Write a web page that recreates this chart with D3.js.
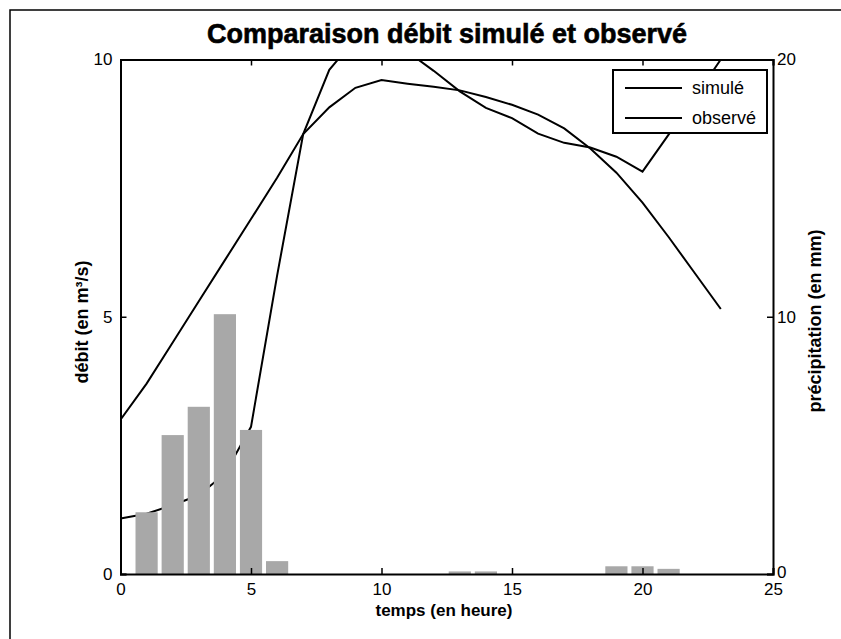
<!DOCTYPE html>
<html>
<head>
<meta charset="utf-8">
<script src="https://cdn.jsdelivr.net/npm/d3@7"></script>
<style>
  body { margin: 0; background: #fff; }
  svg { display: block; }
  text { font-family: "Liberation Sans", Arial, sans-serif; fill: #000; }
</style>
</head>
<body>
<svg width="841" height="639"></svg>
<script>
const svg = d3.select("svg");
const width = +svg.attr("width");
const height = +svg.attr("height");

// plot box (MATLAB style plotyy)
const box = { left: 120.5, right: 773, top: 59.5, bottom: 574 };

/* ---------- data ---------- */

const hours = [0,1,2,3,4,5,6,7,8,9,10,11,12,13,14,15,16,17,18,19,20,21,22,23];

// smooth curve
const simule = [3.0,3.7,4.5,5.3,6.1,6.9,7.7,8.55,9.07,9.45,9.6,9.53,9.47,9.4,9.27,9.12,8.93,8.66,8.27,7.8,7.22,6.55,5.85,5.15];
// steep curve, goes above the axis limit
const observe = [1.08,1.17,1.34,1.53,1.95,2.86,5.8,8.55,9.8,10.4,10.5,10.15,9.78,9.38,9.06,8.86,8.56,8.38,8.29,8.11,7.82,8.54,9.26,10.0];

const pluieHeures = [1,2,3,4,5,6,13,14,19,20,21];
const pluie = [2.4,5.4,6.5,10.1,5.6,0.5,0.1,0.1,0.3,0.3,0.2];

const xTicks = [0,5,10,15,20,25];
const yLeftTicks = [0,5,10];
const yRightTicks = [0,10,20];

/* ---------- scales ---------- */

const x = d3.scaleLinear().domain([0, 25]).range([box.left, box.right]);
const yL = d3.scaleLinear().domain([0, 10]).range([box.bottom, box.top]);
const yR = d3.scaleLinear().domain([0, 20]).range([box.bottom, box.top]);

// figure frame
svg.append("path")
    .attr("d", `M10,${height} V10 H${width}`)
    .attr("fill", "none")
    .attr("stroke", "#000")
    .attr("stroke-width", 1.5);

svg.append("defs").append("clipPath")
    .attr("id", "plot-clip")
  .append("rect")
    .attr("x", box.left)
    .attr("y", box.top)
    .attr("width", box.right - box.left)
    .attr("height", box.bottom - box.top);

/* ---------- lines ---------- */

const line = d3.line()
    .x((d, i) => x(hours[i]))
    .y(d => yL(d));

[simule, observe].forEach(serie => {
    svg.append("path")
        .datum(serie)
        .attr("d", line)
        .attr("fill", "none")
        .attr("stroke", "#000")
        .attr("stroke-width", 2)
        .attr("clip-path", "url(#plot-clip)");
});

/* ---------- rain bars (right axis, drawn on top) ---------- */

const barW = (x(1) - x(0)) * 0.85;

svg.append("g")
    .selectAll("rect")
    .data(pluie)
    .join("rect")
    .attr("x", (d, i) => x(pluieHeures[i]) - barW / 2)
    .attr("y", d => yR(d))
    .attr("width", barW)
    .attr("height", d => yR(0) - yR(d))
    .attr("fill", "#a8a8a8");

/* ---------- axes ---------- */

const tick = 6;

svg.append("g")
    .attr("transform", `translate(0,${box.bottom})`)
    .call(d3.axisBottom(x).tickValues(xTicks).tickSize(-tick).tickPadding(9));

svg.append("g")
    .attr("transform", `translate(0,${box.top})`)
    .call(d3.axisTop(x).tickValues(xTicks).tickSize(-tick).tickFormat(""));

svg.append("g")
    .attr("transform", `translate(${box.left},0)`)
    .call(d3.axisLeft(yL).tickValues(yLeftTicks).tickSize(-tick).tickPadding(8));

const gyr = svg.append("g")
    .attr("transform", `translate(${box.right},0)`)
    .call(d3.axisRight(yR).tickValues(yRightTicks).tickSize(-tick).tickPadding(4));

svg.selectAll(".domain").attr("stroke-width", 2).attr("stroke", "#000");
svg.selectAll(".tick line").attr("stroke-width", 1.5).attr("stroke", "#000");
svg.selectAll(".tick text")
    .attr("font-family", "'Liberation Sans', Arial, sans-serif")
    .attr("font-size", 17)
    .attr("fill", "#000");

// lift the right "0" a little so it does not sit on the "25"
gyr.selectAll(".tick text").filter(d => d === 0).attr("dy", "0.2em");

/* ---------- legend ---------- */

const legendItems = ["simulé", "observé"];
const legend = svg.append("g");

legend.append("rect")
    .attr("x", 613)
    .attr("y", 70)
    .attr("width", 154)
    .attr("height", 63)
    .attr("fill", "#fff")
    .attr("stroke", "#000")
    .attr("stroke-width", 2);

legendItems.forEach((name, i) => {
    const ly = 88 + i * 30;
    legend.append("line")
        .attr("x1", 625).attr("x2", 682)
        .attr("y1", ly).attr("y2", ly)
        .attr("stroke", "#000")
        .attr("stroke-width", 2);
    legend.append("text")
        .attr("x", 692)
        .attr("y", ly + 6)
        .attr("font-size", 18)
        .text(name);
});

/* ---------- titles ---------- */

svg.append("text")
    .attr("x", 447)
    .attr("y", 43)
    .attr("text-anchor", "middle")
    .attr("font-size", 27)
    .attr("font-weight", "bold")
    .attr("stroke", "#000")
    .attr("stroke-width", 0.6)
    .text("Comparaison débit simulé et observé");

svg.append("text")
    .attr("x", 444)
    .attr("y", 616)
    .attr("text-anchor", "middle")
    .attr("font-size", 17)
    .attr("font-weight", "bold")
    .text("temps (en heure)");

svg.append("text")
    .attr("transform", `translate(88,322) rotate(-90)`)
    .attr("text-anchor", "middle")
    .attr("font-size", 18)
    .attr("font-weight", "bold")
    .text("débit (en m³/s)");

svg.append("text")
    .attr("transform", `translate(821,321) rotate(-90)`)
    .attr("text-anchor", "middle")
    .attr("font-size", 18)
    .attr("font-weight", "bold")
    .text("précipitation (en mm)");
</script>
</body>
</html>
